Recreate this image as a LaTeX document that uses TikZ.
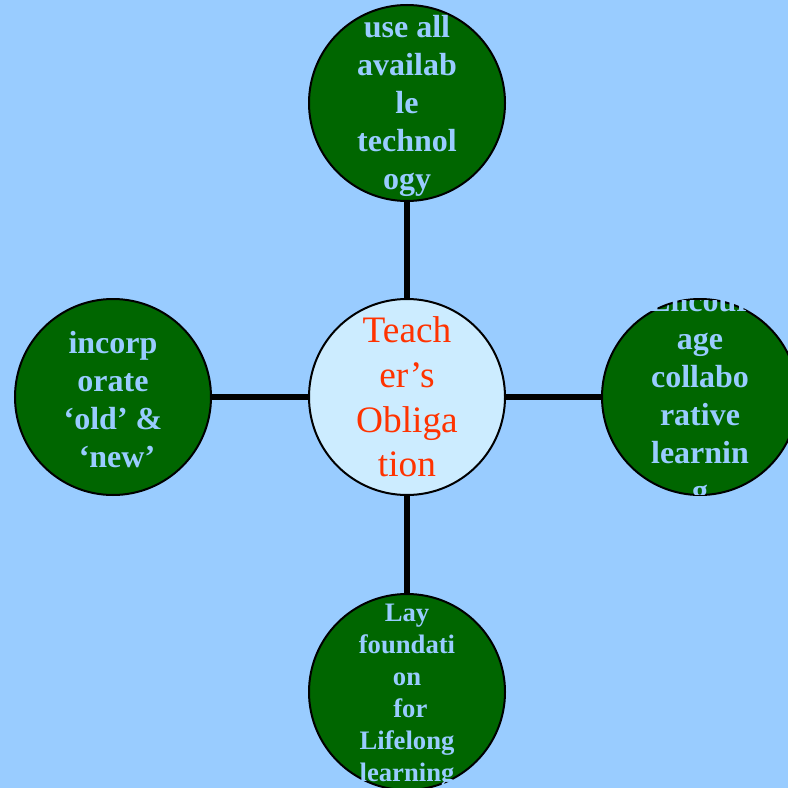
\documentclass[tikz,border=0pt]{standalone}
\usepackage{fontspec}
\setmainfont{Liberation Serif}
\definecolor{bgblue}{HTML}{99CCFF}
\definecolor{hubfill}{HTML}{CCECFF}
\definecolor{leafgreen}{HTML}{006600}
\definecolor{hubred}{HTML}{FF3300}
\tikzset{
hub/.style={circle, draw, line width=1.5pt, fill=hubfill, minimum size=147pt, inner sep=0pt},
leaf/.style={circle, draw, line width=1.5pt, fill=leafgreen, minimum size=147pt, inner sep=0pt},
leaftext/.style={align=center, text=bgblue, inner sep=0pt, font=\fontsize{24}{28.5}\selectfont\bfseries},
spoke/.style={line width=3.8pt}
}
\begin{document}
\begin{tikzpicture}[x=0.75pt, y=-0.75pt]
\fill[bgblue] (0,0) rectangle (788,788);
\useasboundingbox (0,0) rectangle (788,788);
% circles
\node (obligation) [hub] at (407,397) {};
\node (tech) [leaf] at (407,103) {};
\node (oldnew) [leaf] at (113,397) {};
\node (collab) [leaf] at (700,397) {};
\node (lifelong) [leaf] at (407,692) {};
% spokes
\draw[spoke] (obligation) -- (tech);
\draw[spoke] (obligation) -- (oldnew);
\draw[spoke] (obligation) -- (collab);
\draw[spoke] (obligation) -- (lifelong);
% texts
\node[align=center, inner sep=0pt, text=hubred, font=\fontsize{28}{33.5}\selectfont] at (obligation.center) {Teach\\er’s\\Obliga\\tion};
\node[leaftext] at ([yshift=-2pt]tech.center) {use all\\availab\\le\\technol\\ogy};
\node[leaftext] at ([yshift=-2pt]oldnew.center) {incorp\\orate\\‘old’ \&\\\ ‘new’};
\begin{scope}
\clip (603,300) rectangle (797,494);
\node[leaftext] at ([yshift=-2pt]collab.center) {Encour\\age\\collabo\\rative\\learnin\\g};
\end{scope}
\begin{scope}
\clip (309,594) rectangle (505,790);
\node[leaftext, font=\fontsize{20}{24}\selectfont\bfseries] at ([yshift=-3pt]lifelong.center) {Lay\\foundati\\on\\\ for\\Lifelong\\learning};
\end{scope}
\end{tikzpicture}
\end{document}
